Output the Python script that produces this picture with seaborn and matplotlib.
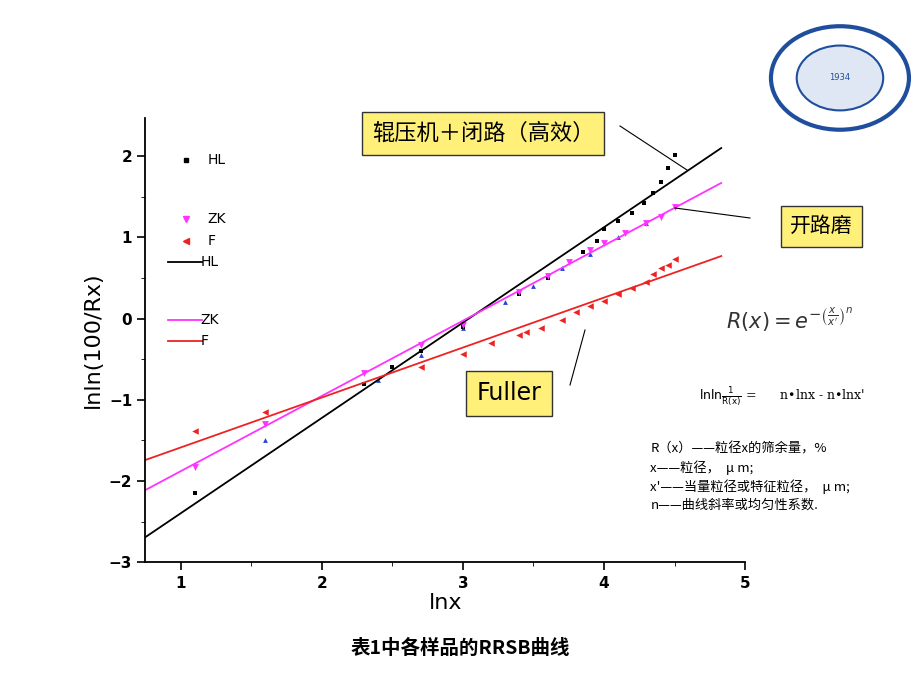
import matplotlib
matplotlib.use("Agg")
import matplotlib.pyplot as plt
import seaborn as sns
import numpy as np
import pandas as pd
from matplotlib.patches import Circle

plt.rcParams["font.family"] = ["DejaVu Sans", "Noto Sans CJK SC"]
CJK = "Noto Sans CJK SC"

hl_x = [1.1, 2.3, 2.5, 2.7, 3.0, 3.4, 3.6, 3.85, 3.95, 4.0, 4.1, 4.2, 4.28, 4.35, 4.4, 4.45, 4.5]
hl_y = [-2.15, -0.8, -0.6, -0.4, -0.1, 0.3, 0.5, 0.82, 0.95, 1.1, 1.2, 1.3, 1.42, 1.55, 1.68, 1.85, 2.02]
zk_x = [1.1, 1.6, 2.3, 2.7, 3.0, 3.4, 3.6, 3.75, 3.9, 4.0, 4.15, 4.3, 4.4, 4.5]
zk_y = [-1.83, -1.3, -0.67, -0.33, -0.08, 0.33, 0.53, 0.7, 0.85, 0.93, 1.05, 1.18, 1.25, 1.37]
f_x = [1.1, 1.6, 2.7, 3.0, 3.2, 3.4, 3.45, 3.55, 3.7, 3.8, 3.9, 4.0, 4.1, 4.2, 4.3, 4.35, 4.4, 4.45, 4.5]
f_y = [-1.38, -1.15, -0.6, -0.43, -0.3, -0.2, -0.17, -0.12, -0.02, 0.08, 0.15, 0.22, 0.3, 0.38, 0.45, 0.55, 0.62, 0.66, 0.73]
b_x = [1.6, 2.4, 2.7, 3.0, 3.3, 3.5, 3.7, 3.9, 4.1, 4.3]
b_y = [-1.5, -0.75, -0.45, -0.12, 0.2, 0.4, 0.62, 0.8, 1.0, 1.18]
# fitted lines: endpoints
fit_x = [0.75, 4.83]
hl_fit = [-2.69, 2.1]
zk_fit = [-2.11, 1.67]
f_fit = [-1.74, 0.77]

fig = plt.figure(figsize=(9.2, 6.9), dpi=100)
ax = fig.add_axes([0.158, 0.185, 0.652, 0.644])

sns.lineplot(x=fit_x, y=hl_fit, color="black", lw=1.3, ax=ax)
sns.lineplot(x=fit_x, y=zk_fit, color="#ff33ff", lw=1.3, ax=ax)
sns.lineplot(x=fit_x, y=f_fit, color="#ee2222", lw=1.3, ax=ax)
sns.scatterplot(x=b_x, y=b_y, color="#2244dd", marker="^", s=12, linewidth=0, ax=ax)
sns.scatterplot(x=hl_x, y=hl_y, color="black", marker="s", s=10, linewidth=0, ax=ax)
sns.scatterplot(x=zk_x, y=zk_y, color="#ff33ff", marker="v", s=24, linewidth=0, ax=ax)
sns.scatterplot(x=f_x, y=f_y, color="#ee2222", marker="<", s=22, linewidth=0, ax=ax)

ax.set_xlim(0.75, 5.0)
ax.set_ylim(-3.0, 2.47)
ax.set_xticks([1, 2, 3, 4, 5])
ax.set_yticks([-3, -2, -1, 0, 1, 2])
ax.set_xticks(np.arange(1.5, 5, 1), minor=True)
ax.set_yticks(np.arange(-2.5, 2.5, 1), minor=True)
for s in ["top", "right"]:
    ax.spines[s].set_visible(False)
ax.spines["left"].set_linewidth(1.3)
ax.spines["bottom"].set_linewidth(1.3)
ax.tick_params(labelsize=11, width=1.2, length=6)
ax.tick_params(which="minor", length=3)
for t in ax.get_xticklabels() + ax.get_yticklabels():
    t.set_fontweight("bold")
ax.set_xlabel("lnx", fontsize=16, labelpad=2)
ax.set_ylabel("lnln(100/Rx)", fontsize=16)

# manual legend
T = ax.transAxes
ax.plot([0.067], [0.905], "s", color="black", ms=3.5, transform=T)
ax.text(0.103, 0.905, "HL", transform=T, va="center", fontsize=10)
ax.plot([0.067], [0.773], "v", color="#ff33ff", ms=5, transform=T)
ax.text(0.103, 0.773, "ZK", transform=T, va="center", fontsize=10)
ax.plot([0.067], [0.723], "<", color="#ee2222", ms=4.5, transform=T)
ax.text(0.103, 0.723, "F", transform=T, va="center", fontsize=10)
ax.plot([0.038, 0.095], [0.676, 0.676], color="black", lw=1.3, transform=T)
ax.text(0.092, 0.676, "HL", transform=T, va="center", fontsize=10)
ax.plot([0.038, 0.095], [0.545, 0.545], color="#ff33ff", lw=1.3, transform=T)
ax.text(0.092, 0.545, "ZK", transform=T, va="center", fontsize=10)
ax.plot([0.038, 0.095], [0.498, 0.498], color="#ee2222", lw=1.3, transform=T)
ax.text(0.092, 0.498, "F", transform=T, va="center", fontsize=10)

box = dict(boxstyle="square,pad=0.45", fc="#fff07a", ec="#333333", lw=1)
fig.text(0.525, 0.807, "辊压机＋闭路（高效）", fontsize=16, family=CJK, ha="center", va="center", bbox=box)
fig.text(0.893, 0.672, "开路磨", fontsize=15, family=CJK, ha="center", va="center", bbox=box)
fig.text(0.553, 0.43, "Fuller", fontsize=17, ha="center", va="center", bbox=box)
fig.add_artist(plt.Line2D([620/920, 687/920], [1-126/690, 1-170/690], color="black", lw=0.8))
fig.add_artist(plt.Line2D([675/920, 750/920], [1-208/690, 1-218/690], color="black", lw=0.8))
fig.add_artist(plt.Line2D([585/920, 570/920], [1-330/690, 1-385/690], color="black", lw=0.8))

fig.text(0.858, 0.537, r"$R(x) = e^{-\left(\frac{x}{x'}\right)^n}$", fontsize=15, ha="center", va="center", color="#333333")
fig.text(0.76, 0.425, r"$\mathrm{lnln}\frac{1}{\mathrm{R(x)}}$ =      n•lnx - n•lnx'", fontsize=9, va="center", family="serif")
desc = ["R（x）——粒径x的筛余量，%", "x——粒径，  μ m;", "x'——当量粒径或特征粒径，  μ m;", "n——曲线斜率或均匀性系数."]
for i, d in enumerate(desc):
    fig.text(0.707, 0.35 - i * 0.0275, d, fontsize=9.5, family=CJK, va="center")

fig.text(0.5, 0.06, "表1中各样品的RRSB曲线", fontsize=14, fontweight="bold", family=CJK, ha="center", va="center")

# logo approximation
c = Circle((0.913, 0.887), 0.075, transform=fig.transFigure, fc="white", ec="#1f4e9c", lw=3)
fig.add_artist(c)
c2 = Circle((0.913, 0.887), 0.047, transform=fig.transFigure, fc="#dfe7f5", ec="#1f4e9c", lw=1.5)
fig.add_artist(c2)
fig.text(0.913, 0.887, "1934", fontsize=6, color="#1f4e9c", ha="center", va="center")

fig.savefig("out.png", dpi=100)
